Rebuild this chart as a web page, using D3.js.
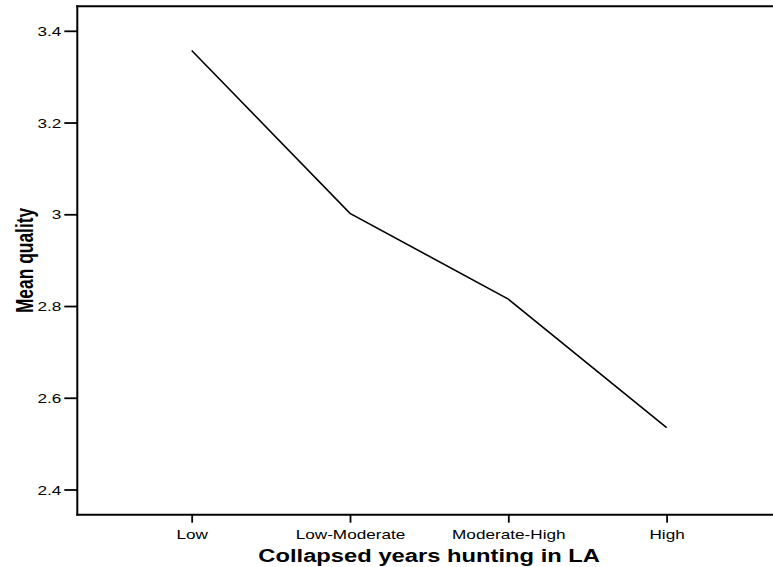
<!DOCTYPE html>
<html>
<head>
<meta charset="utf-8">
<script src="https://cdn.jsdelivr.net/npm/d3@7"></script>
<style>
  html, body { margin: 0; padding: 0; background: #fff; overflow: hidden; }
  svg { display: block; }
  text { font-family: "Liberation Sans", Arial, sans-serif; fill: #000; }
</style>
</head>
<body>
<svg id="chart" width="773" height="567"></svg>
<script>
// ---- data ----
const categories = ["Low", "Low-Moderate", "Moderate-High", "High"];
const meanQuality = [3.357, 3.002, 2.815, 2.535];
const yTickValues = [2.4, 2.6, 2.8, 3.0, 3.2, 3.4];
const yTickLabels = ["2.4", "2.6", "2.8", "3", "3.2", "3.4"];
const xTitle = "Collapsed years hunting in LA";
const yTitle = "Mean quality";

// ---- layout ----
const plotLeft = 77.3, plotRight = 781, plotTop = 6.2, plotBottom = 514.7;
const sx = 1.32; // horizontal text stretch seen in the reference

const svg = d3.select("#chart");

const x = d3.scalePoint().domain(categories).range([plotLeft, plotRight]).padding(0.7225);
const y = d3.scaleLinear().domain([2.4, 3.4]).range([489.5, 30.8]);

// frame: left, top, bottom (right edge lies outside the picture)
const frame = svg.append("g").attr("stroke", "#000").attr("stroke-width", 2);
frame.append("line").attr("x1", plotLeft).attr("x2", plotLeft).attr("y1", plotTop - 1).attr("y2", plotBottom + 1);
frame.append("line").attr("x1", plotLeft - 1).attr("x2", 773).attr("y1", plotTop).attr("y2", plotTop);
frame.append("line").attr("x1", plotLeft - 1).attr("x2", 773).attr("y1", plotBottom).attr("y2", plotBottom);

// y axis
const yAxis = svg.append("g").attr("transform", `translate(${plotLeft},0)`)
  .call(d3.axisLeft(y).tickValues(yTickValues)
    .tickFormat((d, i) => yTickLabels[i]).tickSize(13).tickSizeOuter(0));
yAxis.select(".domain").remove();
yAxis.selectAll(".tick line").attr("stroke", "#000").attr("stroke-width", 1.8);
yAxis.selectAll(".tick text")
  .attr("x", null).attr("dy", null)
  .attr("transform", `translate(-16,0) scale(${sx},1)`)
  .attr("text-anchor", "end")
  .attr("dominant-baseline", "central")
  .style("font-size", "13px")
  .style("font-family", '"Liberation Sans", Arial, sans-serif')
  .attr("fill", "#000");

// x axis
const xAxis = svg.append("g").attr("transform", `translate(0,${plotBottom})`)
  .call(d3.axisBottom(x).tickSize(8).tickSizeOuter(0));
xAxis.select(".domain").remove();
xAxis.selectAll(".tick line").attr("stroke", "#000").attr("stroke-width", 1.8);
xAxis.selectAll(".tick text")
  .attr("y", null).attr("dy", null)
  .attr("transform", `translate(0,24.6) scale(${sx},1)`)
  .attr("text-anchor", "middle")
  .style("font-size", "13px")
  .style("font-family", '"Liberation Sans", Arial, sans-serif')
  .attr("fill", "#000");

// line
const line = d3.line().x((d, i) => x(categories[i])).y(d => y(d));
svg.append("path")
  .datum(meanQuality)
  .attr("d", line)
  .attr("fill", "none")
  .attr("stroke", "#000")
  .attr("stroke-width", 1.6)
  .attr("stroke-linejoin", "miter");

// axis titles
svg.append("text")
  .attr("transform", `translate(${(plotLeft + plotRight) / 2},562) scale(${sx},1)`)
  .attr("text-anchor", "middle")
  .style("font-size", "18px").style("font-weight", "bold")
  .text(xTitle);

svg.append("text")
  .attr("transform", `translate(32.5,${(plotTop + plotBottom) / 2}) scale(1.42,1) rotate(-90)`)
  .attr("text-anchor", "middle")
  .style("font-size", "17.4px").style("font-weight", "bold")
  .text(yTitle);
</script>
</body>
</html>
